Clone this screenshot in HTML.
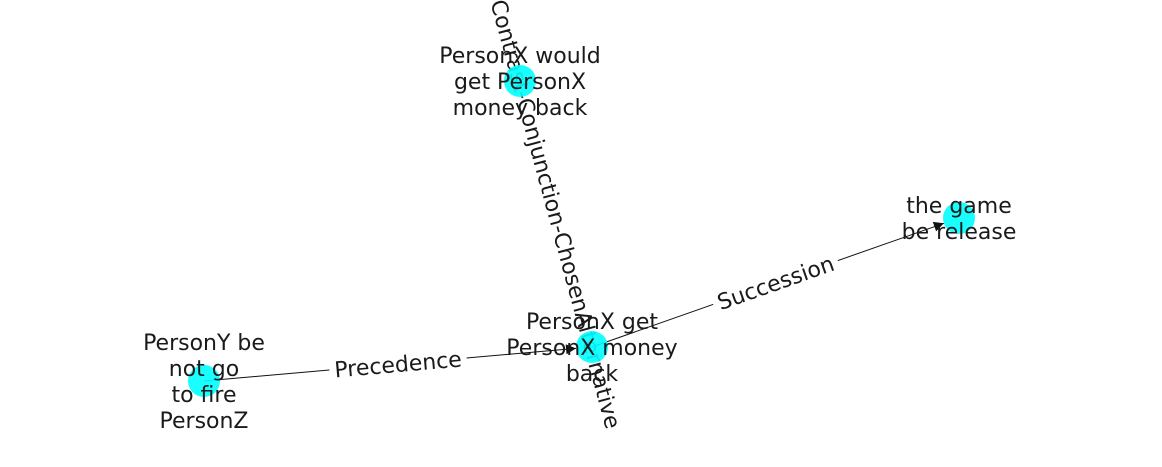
<!DOCTYPE html>
<html><head><meta charset="utf-8"><style>
html,body{margin:0;padding:0;background:#fff;}
svg text{font-family:"DejaVu Sans","Liberation Sans",sans-serif;font-size:22px;fill:#1a1a1a;}
</style></head><body>
<svg id="g" width="1162" height="462" viewBox="0 0 1162 462">
<defs><marker id="arr" viewBox="0 0 10 10" refX="10" refY="5" markerWidth="12" markerHeight="10" markerUnits="userSpaceOnUse" orient="auto"><path d="M0,0 L10,5 L0,10 z" fill="#111"/></marker></defs>
</svg>
<script>
const nodeIds = ['a','b','c','d'];
const nodeLabels = [['PersonX would','get PersonX','money back'],['PersonX get','PersonX money','back'],['the game','be release'],['PersonY be','not go','to fire','PersonZ']];
const nodeX = [520,592,959,204];
const nodeY = [81,347,218,381];
const edgeFrom = ['d','b','a'];
const edgeTo = ['b','c','b'];
const edgeLabels = ['Precedence','Succession','Contrast-Conjunction-ChosenAlternative'];
const edgeArrow = [true,true,false];

const svg = document.getElementById('g');
const NS = 'http://www.w3.org/2000/svg';
const R = 16;
function mk(t, attrs){const e=document.createElementNS(NS,t);for(const k in attrs)e.setAttribute(k,attrs[k]);return e;}
function pos(id){const i=nodeIds.indexOf(id);return [nodeX[i],nodeY[i]];}

const edgeLayer = mk('g',{}); svg.appendChild(edgeLayer);
const labelLayer = mk('g',{}); svg.appendChild(labelLayer);
const nodeLayer = mk('g',{}); svg.appendChild(nodeLayer);
const textLayer = mk('g',{}); svg.appendChild(textLayer);

edgeFrom.forEach((f,i)=>{
  const [x1,y1]=pos(f), [x2,y2]=pos(edgeTo[i]);
  const dx=x2-x1, dy=y2-y1, L=Math.hypot(dx,dy);
  const ex = edgeArrow[i] ? x2-dx/L*R : x2, ey = edgeArrow[i] ? y2-dy/L*R : y2;
  if (edgeArrow[i]) {
    const ln = mk('line',{x1:x1,y1:y1,x2:ex,y2:ey,stroke:'#111','stroke-width':1});
    ln.setAttribute('marker-end','url(#arr)');
    
    
    edgeLayer.appendChild(ln);
  }
  let ang = Math.atan2(dy,dx)*180/Math.PI;
  if (ang>90) ang-=180; if (ang<-90) ang+=180;
  const mx=(x1+x2)/2, my=(y1+y2)/2;
  const g = mk('g',{transform:`translate(${mx},${my}) rotate(${ang})`});
  
  
  const t = mk('text',{x:0,y:8,'text-anchor':'middle'});
  t.textContent = edgeLabels[i];
  g.appendChild(t);
  labelLayer.appendChild(g);
  if (edgeArrow[i]) {
    const bb = t.getBBox();
    const r = mk('rect',{x:bb.x-5,y:bb.y-2,width:bb.width+10,height:bb.height+4,fill:'#fff'});
    g.insertBefore(r,t);
  }
});

nodeIds.forEach((id,i)=>{
  const c = mk('circle',{cx:nodeX[i],cy:nodeY[i],r:R,fill:'#00ffff','fill-opacity':0.9});
  
  
  nodeLayer.appendChild(c);
  const lines = nodeLabels[i], lh = 26;
  const t = mk('text',{'text-anchor':'middle'});
  
  
  lines.forEach((s,k)=>{
    const ts = mk('tspan',{x:nodeX[i],y:nodeY[i]+8+(k-(lines.length-1)/2)*lh});
    ts.textContent = s; t.appendChild(ts);
  });
  textLayer.appendChild(t);
});
</script>
</body></html>
